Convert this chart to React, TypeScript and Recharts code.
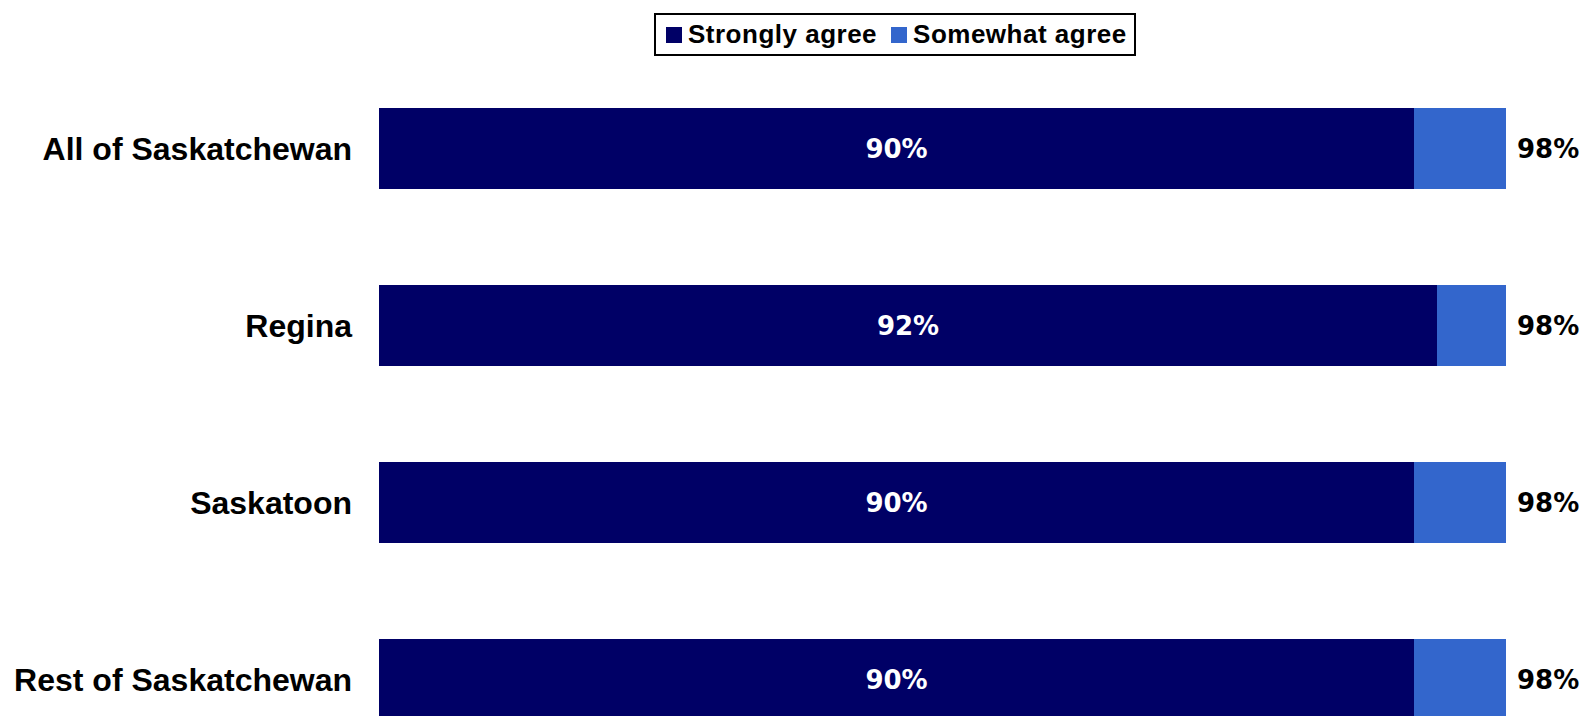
import React from 'react';
import { BarChart, Bar, XAxis, YAxis, LabelList } from 'recharts';

const regions = ['All of Saskatchewan', 'Regina', 'Saskatoon', 'Rest of Saskatchewan'];
const stronglyAgree = [90, 92, 90, 90];
const somewhatAgree = [8, 6, 8, 8];
const totalAgree = [98, 98, 98, 98];

const DARK = '#000066';
const LIGHT = '#3366CC';

const data = regions.map((name, i) => ({
    name,
    strongly: stronglyAgree[i],
    somewhat: somewhatAgree[i],
    total: totalAgree[i],
}));

// total label drawn to the right of the stacked bar
const TotalLabel = (props: any) => {
    const { x, y, width, height, index } = props;
    return (
        <text
            x={Number(x) + Number(width) + 11}
            y={Number(y) + Number(height) / 2}
            dy={9}
            fill="#000"
            fontSize={26}
            fontWeight="bold"
            fontFamily="'DejaVu Sans', sans-serif"
        >
            {`${totalAgree[index]}%`}
        </text>
    );
};

const LegendBox = () => (
    <div style={{
        position: 'absolute', left: 654, top: 13, width: 478, height: 39,
        border: '2px solid #000', background: '#fff',
        display: 'flex', alignItems: 'center', boxSizing: 'content-box',
        fontFamily: "'Liberation Sans', Arial, sans-serif", fontWeight: 'bold', fontSize: 26,
        letterSpacing: 0.5,
    }}>
        <span style={{ display: 'inline-block', width: 16, height: 16, background: DARK, marginLeft: 10 }} />
        <span style={{ marginLeft: 6 }}>Strongly agree</span>
        <span style={{ display: 'inline-block', width: 16, height: 16, background: LIGHT, marginLeft: 14 }} />
        <span style={{ marginLeft: 6 }}>Somewhat agree</span>
    </div>
);

export default function App() {
    return (
        <div style={{ position: 'absolute', left: 0, top: 0, width: 1590, height: 716, overflow: 'hidden', background: '#fff' }}>
            <BarChart
                width={1590}
                height={780}
                data={data}
                layout="vertical"
                margin={{ top: 60, right: 61, bottom: 12, left: 0 }}
            >
                <XAxis type="number" domain={[0, 100]} hide />
                <YAxis
                    type="category"
                    dataKey="name"
                    width={379}
                    axisLine={false}
                    tickLine={false}
                    tickSize={0}
                    tickMargin={27}
                    tick={{ fill: '#000', fontSize: 32, fontWeight: 'bold', fontFamily: "'Liberation Sans', Arial, sans-serif" }}
                />
                <Bar dataKey="strongly" stackId="a" fill={DARK} barSize={81} isAnimationActive={false}>
                    <LabelList
                        dataKey="strongly"
                        position="center"
                        formatter={(v: any) => `${v}%`}
                        fill="#fff"
                        fontSize={26}
                        fontWeight="bold"
                        fontFamily="'DejaVu Sans', sans-serif"
                    />
                </Bar>
                <Bar dataKey="somewhat" stackId="a" fill={LIGHT} barSize={81} isAnimationActive={false}>
                    <LabelList dataKey="total" content={<TotalLabel />} />
                </Bar>
            </BarChart>
            <LegendBox />
        </div>
    );
}
